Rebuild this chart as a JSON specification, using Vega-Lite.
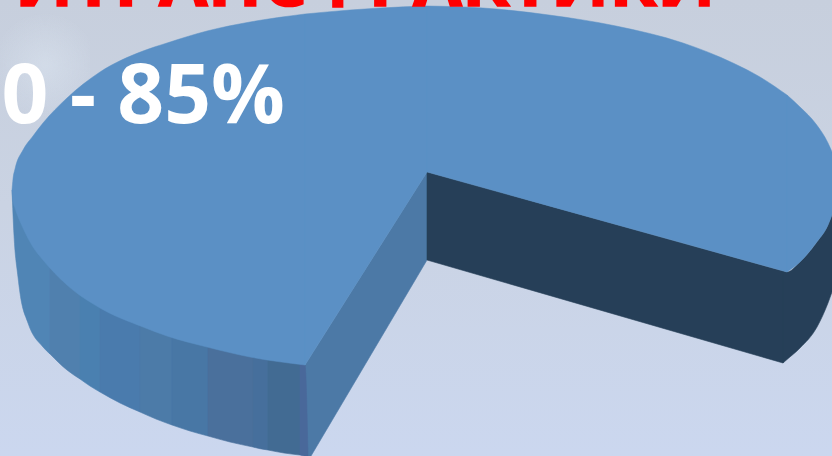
{
  "$schema": "https://vega.github.io/schema/vega-lite/v6.json",
  "width": 832,
  "height": 456,
  "padding": 0,
  "autosize": {"type": "none"},
  "view": {"stroke": null},
  "config": {"axis": {"disable": true}, "legend": {"disable": true}},
  "resolve": {"scale": {"color": "independent", "stroke": "independent"}},
  "datasets": {
    "backdrop": [{"x": 0, "x2": 832, "y": 0, "y2": 456}],
    "glow": [{"x": 0, "x2": 90, "y": 0, "y2": 130}],
    "cutFaces": [
      {"face": "inner", "x": 305, "y": 365, "y2": 456},
      {"face": "inner", "x": 311, "y": 355.5, "y2": 456},
      {"face": "inner", "x": 427, "y": 172, "y2": 260},
      {"face": "cut", "x": 427, "y": 172, "y2": 260},
      {"face": "cut", "x": 783, "y": 271, "y2": 363}
    ],
    "walls": [
      {"face": "rimcut", "x": 783, "y": 271, "y2": 363},
      {"face": "rimcut", "x": 787, "y": 272, "y2": 359.5},
      {"face": "rimcut", "x": 800, "y": 262, "y2": 348},
      {"face": "rimcut", "x": 817, "y": 242, "y2": 327},
      {"face": "rimcut", "x": 828, "y": 225, "y2": 303},
      {"face": "rimcut", "x": 832, "y": 215, "y2": 292},
      {"face": "rim1", "x": 12, "y": 190, "y2": 190},
      {"face": "rim1", "x": 14, "y": 190, "y2": 235},
      {"face": "rim1", "x": 18, "y": 200, "y2": 277},
      {"face": "rim1", "x": 20, "y": 205, "y2": 293},
      {"face": "rim1", "x": 28, "y": 220, "y2": 323},
      {"face": "rim1", "x": 43, "y": 245, "y2": 347},
      {"face": "rim1", "x": 50, "y": 255, "y2": 354},
      {"face": "rim2", "x": 50, "y": 255, "y2": 354},
      {"face": "rim2", "x": 67, "y": 275, "y2": 370},
      {"face": "rim2", "x": 80, "y": 285, "y2": 379},
      {"face": "rim3", "x": 80, "y": 285, "y2": 379},
      {"face": "rim3", "x": 90, "y": 295, "y2": 386},
      {"face": "rim3", "x": 100, "y": 300, "y2": 392},
      {"face": "rim4", "x": 100, "y": 300, "y2": 392},
      {"face": "rim4", "x": 120, "y": 312, "y2": 403},
      {"face": "rim4", "x": 140, "y": 322, "y2": 412},
      {"face": "rim5", "x": 140, "y": 322, "y2": 412},
      {"face": "rim5", "x": 156, "y": 328, "y2": 419},
      {"face": "rim5", "x": 172, "y": 334, "y2": 425},
      {"face": "rim6", "x": 172, "y": 334, "y2": 425},
      {"face": "rim6", "x": 190, "y": 339, "y2": 431},
      {"face": "rim6", "x": 208, "y": 344, "y2": 436},
      {"face": "rim7", "x": 208, "y": 344, "y2": 436},
      {"face": "rim7", "x": 230, "y": 349, "y2": 442},
      {"face": "rim7", "x": 253, "y": 354, "y2": 447},
      {"face": "rim8", "x": 253, "y": 354, "y2": 447},
      {"face": "rim8", "x": 260, "y": 356, "y2": 448.7},
      {"face": "rim8", "x": 268, "y": 358, "y2": 450},
      {"face": "rim9", "x": 268, "y": 358, "y2": 450},
      {"face": "rim9", "x": 284, "y": 360, "y2": 453},
      {"face": "rim9", "x": 300, "y": 362, "y2": 455},
      {"face": "rim10", "x": 300, "y": 362, "y2": 455},
      {"face": "rim10", "x": 305, "y": 365, "y2": 456},
      {"face": "rim10", "x": 308, "y": 456, "y2": 456}
    ],
    "surface": [
      {"piece": "a", "x": 12, "y": 190, "y2": 190},
      {"piece": "a", "x": 13, "y": 179, "y2": 201},
      {"piece": "a", "x": 15, "y": 169, "y2": 208},
      {"piece": "a", "x": 23, "y": 150, "y2": 228},
      {"piece": "a", "x": 33, "y": 136, "y2": 247},
      {"piece": "a", "x": 43, "y": 123, "y2": 260},
      {"piece": "a", "x": 67, "y": 98, "y2": 285},
      {"piece": "a", "x": 100, "y": 72, "y2": 308},
      {"piece": "a", "x": 143, "y": 51, "y2": 327},
      {"piece": "a", "x": 167, "y": 43, "y2": 336},
      {"piece": "a", "x": 207, "y": 31, "y2": 347},
      {"piece": "a", "x": 250, "y": 22, "y2": 357},
      {"piece": "a", "x": 305, "y": 14, "y2": 365},
      {"piece": "b", "x": 305, "y": 14, "y2": 365},
      {"piece": "b", "x": 350, "y": 10, "y2": 293.8},
      {"piece": "b", "x": 380, "y": 8, "y2": 246.3},
      {"piece": "b", "x": 427, "y": 6, "y2": 172},
      {"piece": "c", "x": 427, "y": 6, "y2": 172},
      {"piece": "c", "x": 483, "y": 8, "y2": 187.6},
      {"piece": "c", "x": 549, "y": 15, "y2": 205.9},
      {"piece": "c", "x": 616, "y": 26, "y2": 224.5},
      {"piece": "c", "x": 683, "y": 43, "y2": 243.1},
      {"piece": "c", "x": 733, "y": 63, "y2": 257},
      {"piece": "c", "x": 760, "y": 77, "y2": 264.5},
      {"piece": "c", "x": 787, "y": 95, "y2": 272},
      {"piece": "d", "x": 787, "y": 95, "y2": 272},
      {"piece": "d", "x": 800, "y": 107, "y2": 262},
      {"piece": "d", "x": 816, "y": 124, "y2": 243},
      {"piece": "d", "x": 828, "y": 143, "y2": 225},
      {"piece": "d", "x": 832, "y": 152, "y2": 215}
    ],
    "captions": [
      {"label": "ИТРАНСФРАКТИКИ", "role": "heading", "x": 365, "y": 6},
      {"label": "0 - 85%", "role": "share", "x": 285, "y": 123}
    ]
  },
  "layer": [
    {
      "data": {"name": "backdrop"},
      "mark": {
        "type": "rect",
        "color": {
          "gradient": "linear", "x1": 0, "y1": 0, "x2": 0, "y2": 1,
          "stops": [
            {"offset": 0, "color": "#c7cfdd"},
            {"offset": 0.45, "color": "#cad3e3"},
            {"offset": 1, "color": "#cbd7ef"}
          ]
        }
      },
      "encoding": {
        "x": {"field": "x", "type": "quantitative", "scale": {"domain": [0, 832], "nice": false, "zero": false}, "axis": null},
        "x2": {"field": "x2"},
        "y": {"field": "y", "type": "quantitative", "scale": {"domain": [456, 0], "nice": false, "zero": false}, "axis": null},
        "y2": {"field": "y2"}
      }
    },
    {
      "data": {"name": "glow"},
      "mark": {
        "type": "rect",
        "color": {
          "gradient": "radial", "x1": 0.5, "y1": 0.5, "r1": 0, "x2": 0.5, "y2": 0.5, "r2": 0.4,
          "stops": [
            {"offset": 0, "color": "rgba(226,236,246,0.4)"},
            {"offset": 1, "color": "rgba(226,236,246,0)"}
          ]
        }
      },
      "encoding": {
        "x": {"field": "x", "type": "quantitative", "scale": {"domain": [0, 832], "nice": false, "zero": false}, "axis": null},
        "x2": {"field": "x2"},
        "y": {"field": "y", "type": "quantitative", "scale": {"domain": [456, 0], "nice": false, "zero": false}, "axis": null},
        "y2": {"field": "y2"}
      }
    },
    {
      "data": {"name": "cutFaces"},
      "mark": {"type": "area", "interpolate": "linear", "strokeWidth": 0.6, "clip": true},
      "encoding": {
        "x": {"field": "x", "type": "quantitative", "scale": {"domain": [0, 832], "nice": false, "zero": false}, "axis": null},
        "y": {"field": "y", "type": "quantitative", "stack": null, "scale": {"domain": [456, 0], "nice": false, "zero": false}, "axis": null},
        "y2": {"field": "y2"},
        "color": {"field": "face", "type": "nominal", "legend": null, "scale": {"domain": ["inner", "cut"], "range": ["#4c79a6", "#263f58"]}},
        "stroke": {"field": "face", "type": "nominal", "legend": null, "scale": {"domain": ["inner", "cut"], "range": ["#4c79a6", "#263f58"]}}
      }
    },
    {
      "data": {"name": "walls"},
      "mark": {"type": "area", "interpolate": "monotone", "strokeWidth": 0.6, "clip": true},
      "encoding": {
        "x": {"field": "x", "type": "quantitative", "scale": {"domain": [0, 832], "nice": false, "zero": false}, "axis": null},
        "y": {"field": "y", "type": "quantitative", "stack": null, "scale": {"domain": [456, 0], "nice": false, "zero": false}, "axis": null},
        "y2": {"field": "y2"},
        "color": {
          "field": "face", "type": "nominal", "legend": null,
          "scale": {
            "domain": ["rimcut", "rim1", "rim2", "rim3", "rim4", "rim5", "rim6", "rim7", "rim8", "rim9", "rim10"],
            "range": ["#263f58", "#5085b5", "#5080ae", "#4a80b0", "#4a7bad", "#4c7ba8", "#4877a5", "#4a709c", "#466f9c", "#426b93", "#49689a"]
          }
        },
        "stroke": {
          "field": "face", "type": "nominal", "legend": null,
          "scale": {
            "domain": ["rimcut", "rim1", "rim2", "rim3", "rim4", "rim5", "rim6", "rim7", "rim8", "rim9", "rim10"],
            "range": ["#263f58", "#5085b5", "#5080ae", "#4a80b0", "#4a7bad", "#4c7ba8", "#4877a5", "#4a709c", "#466f9c", "#426b93", "#49689a"]
          }
        }
      }
    },
    {
      "data": {"name": "surface"},
      "mark": {"type": "area", "interpolate": "monotone", "color": "#5b90c5", "stroke": "#5b90c5", "strokeWidth": 0.5, "clip": true},
      "encoding": {
        "x": {"field": "x", "type": "quantitative", "scale": {"domain": [0, 832], "nice": false, "zero": false}, "axis": null},
        "y": {"field": "y", "type": "quantitative", "stack": null, "scale": {"domain": [456, 0], "nice": false, "zero": false}, "axis": null},
        "y2": {"field": "y2"},
        "detail": {"field": "piece"}
      }
    },
    {
      "data": {"name": "captions"},
      "transform": [{"filter": "datum.role === 'heading'"}],
      "mark": {"type": "text", "font": "Open Sans", "fontWeight": "bold", "fontSize": 71, "align": "center", "baseline": "alphabetic", "color": "#ff0000", "stroke": "#ff0000", "strokeWidth": 1.5},
      "encoding": {
        "x": {"field": "x", "type": "quantitative", "scale": {"domain": [0, 832], "nice": false, "zero": false}, "axis": null},
        "y": {"field": "y", "type": "quantitative", "scale": {"domain": [456, 0], "nice": false, "zero": false}, "axis": null},
        "text": {"field": "label"}
      }
    },
    {
      "data": {"name": "captions"},
      "transform": [{"filter": "datum.role === 'share'"}],
      "mark": {"type": "text", "font": "Open Sans", "fontWeight": "bold", "fontSize": 82, "align": "right", "baseline": "alphabetic", "color": "#ffffff"},
      "encoding": {
        "x": {"field": "x", "type": "quantitative", "scale": {"domain": [0, 832], "nice": false, "zero": false}, "axis": null},
        "y": {"field": "y", "type": "quantitative", "scale": {"domain": [456, 0], "nice": false, "zero": false}, "axis": null},
        "text": {"field": "label"}
      }
    }
  ]
}
